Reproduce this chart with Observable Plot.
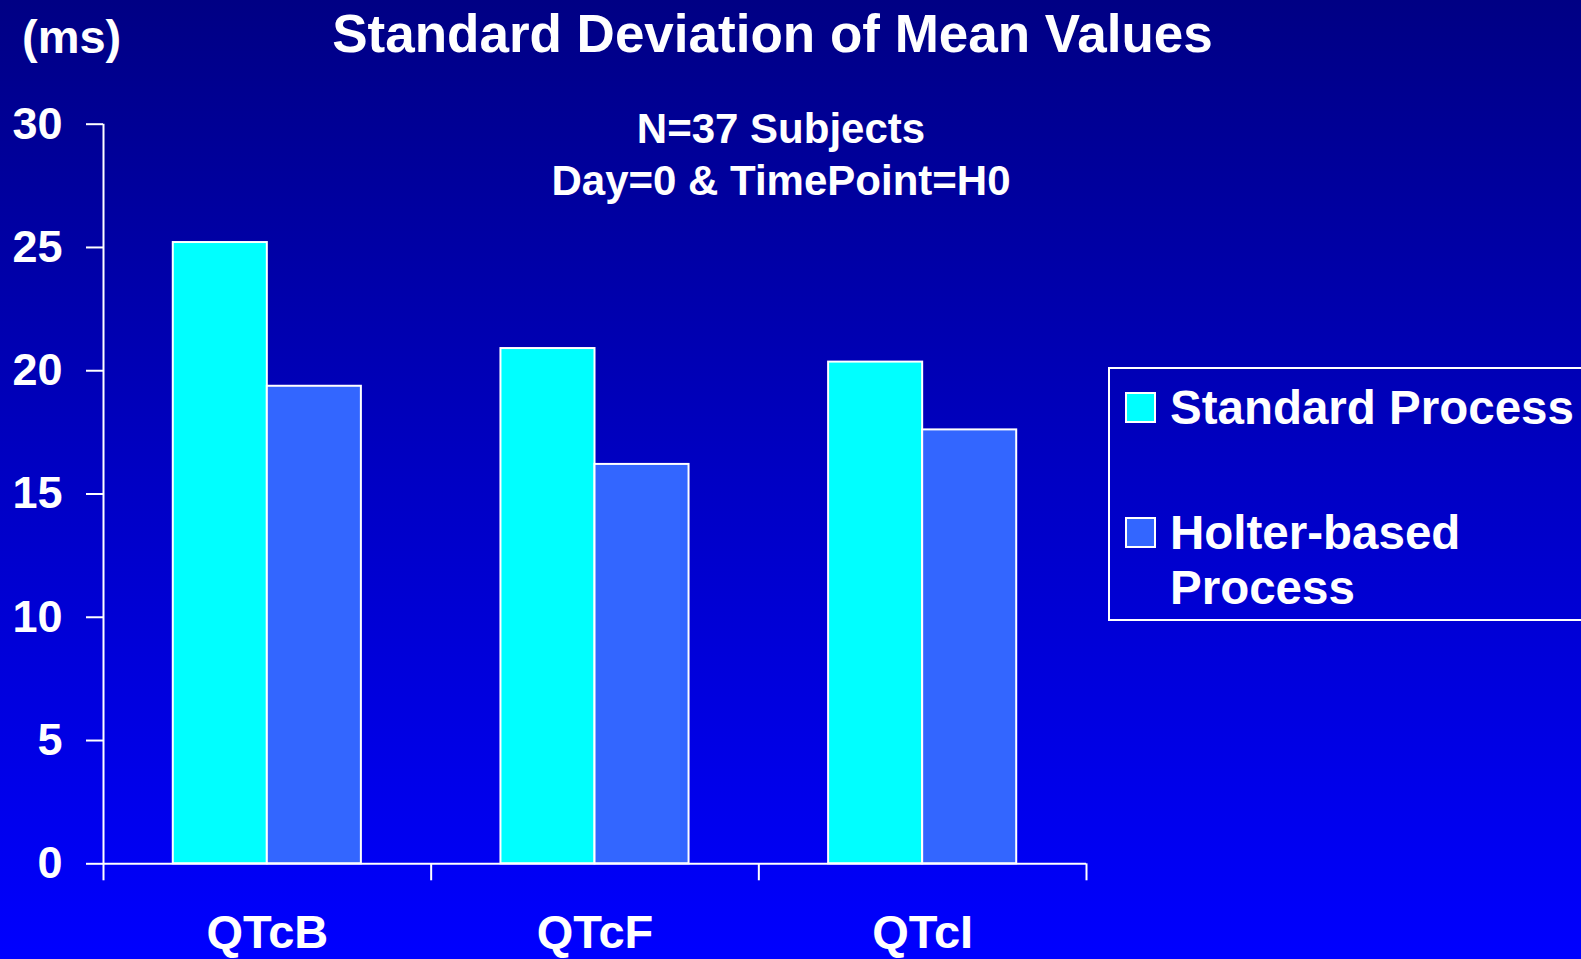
<!DOCTYPE html>
<html>
<head>
<meta charset="utf-8">
<script src="https://cdn.jsdelivr.net/npm/d3@7"></script>
<script src="https://cdn.jsdelivr.net/npm/@observablehq/plot@0.6"></script>
<style>
  html, body { margin: 0; padding: 0; overflow: hidden; }
  #page {
    position: relative; width: 1581px; height: 959px;
    background: linear-gradient(to bottom, #000084 0%, #0000c4 50%, #0000ff 100%);
    font-family: "Liberation Sans", Arial, Helvetica, sans-serif;
    font-weight: bold; color: #ffffff;
  }
  #page svg { position: absolute; left: 0; top: 0; }
  .txt { position: absolute; white-space: nowrap; line-height: 1; }
  #title { left: 0; width: 1545px; text-align: center; top: 7px; font-size: 53px; }
  #unit { left: 22px; top: 13px; font-size: 47px; }
  #subtitle { left: 0; width: 1562px; text-align: center; top: 103px; font-size: 42px; line-height: 52px; }
  #legend {
    position: absolute; left: 1108px; top: 367px; width: 500px; height: 254px;
    border: 2px solid #ffffff; box-sizing: border-box;
  }
  .sw { position: absolute; width: 31px; height: 31px; box-sizing: border-box; border: 2px solid #ffffff; }
  .lt { position: absolute; font-size: 47.5px; line-height: 55px; white-space: nowrap; }
</style>
</head>
<body>
<div id="page">
  <div id="chart"></div>
  <div class="txt" id="unit"></div>
  <div class="txt" id="title"></div>
  <div class="txt" id="subtitle"></div>
  <div id="legend"></div>
</div>
<script>
// ---- data ----
const titleText = "Standard Deviation of Mean Values";
const unitText = "(ms)";
const subtitleLines = ["N=37 Subjects", "Day=0 & TimePoint=H0"];
const categories = ["QTcB", "QTcF", "QTcI"];
const seriesNames = ["Standard Process", "Holter-based Process"];
const legendLabels = [["Standard Process"], ["Holter-based", "Process"]];
const standardValues = [25.2, 20.9, 20.35];
const holterValues = [19.37, 16.2, 17.6];
const seriesColors = ["#00ffff", "#3366ff"];
const yTicks = [0, 5, 10, 15, 20, 25, 30];

// ---- table ----
const rows = [];
categories.forEach((c, i) => {
  rows.push({cat: c, idx: i, series: seriesNames[0], value: standardValues[i]});
  rows.push({cat: c, idx: i, series: seriesNames[1], value: holterValues[i]});
});

// within-category placement of the two bars (fraction of a category slot)
const sub = d3.scaleBand().domain(seriesNames).range([0, 1]).paddingInner(0).paddingOuter(0.742);

const chart = Plot.plot({
  width: 1581,
  height: 959,
  marginLeft: 103,
  marginRight: 495,
  marginTop: 123.7,
  marginBottom: 95.7,
  style: {background: "transparent", color: "#ffffff", fontFamily: "'Liberation Sans', Arial, sans-serif", fontWeight: "bold", overflow: "visible"},
  x: {type: "linear", domain: [0, categories.length]},
  y: {type: "linear", domain: [0, 30]},
  color: {domain: seriesNames, range: seriesColors},
  marks: [
    Plot.rectY(rows, {
      x1: d => d.idx + sub(d.series),
      x2: d => d.idx + sub(d.series) + sub.bandwidth(),
      y: "value",
      fill: "series",
      stroke: "#ffffff",
      strokeWidth: 2
    }),
    Plot.ruleX([0], {stroke: "#ffffff", strokeWidth: 2}),
    Plot.ruleY([0], {stroke: "#ffffff", strokeWidth: 2}),
    Plot.axisY({ticks: yTicks, tickSize: 17, tickPadding: 24, fontSize: 45, fontWeight: "bold", strokeWidth: 2, label: null, tickFormat: d3.format("d")}),
    Plot.axisX({ticks: d3.range(categories.length + 1), tickSize: 17, strokeWidth: 2, tickFormat: () => "", label: null}),
    Plot.axisX({ticks: categories.map((c, i) => i + 0.5), tickSize: 0, tickPadding: 51, fontSize: 47, fontWeight: "bold", label: null, tickFormat: d => categories[Math.floor(d)]})
  ]
});
document.getElementById("chart").appendChild(chart);

document.getElementById("title").textContent = titleText;
document.getElementById("unit").textContent = unitText;
document.getElementById("subtitle").innerHTML = subtitleLines.map(s => s.replace(/&/g, "&amp;")).join("<br>");

// legend
const legend = document.getElementById("legend");
const swTops = [23, 148];
const textTops = [11, 136];
seriesNames.forEach((s, i) => {
  const sw = document.createElement("div");
  sw.className = "sw";
  sw.style.left = "15px";
  sw.style.top = swTops[i] + "px";
  sw.style.background = seriesColors[i];
  legend.appendChild(sw);
  const t = document.createElement("div");
  t.className = "lt";
  t.style.left = "60px";
  t.style.top = textTops[i] + "px";
  t.innerHTML = legendLabels[i].join("<br>");
  legend.appendChild(t);
});
</script>
</body>
</html>
